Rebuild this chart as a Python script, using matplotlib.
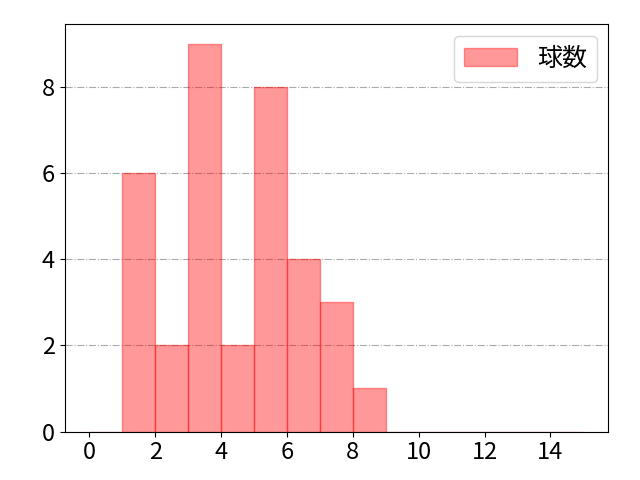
import matplotlib.pyplot as plt
import numpy as np

plt.rcParams['font.family'] = ['Noto Sans CJK JP', 'DejaVu Sans']

# pitch counts per bin (bins of width 1 from 0 to 15)
bin_edges = list(range(0, 16))
counts = [0, 6, 2, 9, 2, 8, 4, 3, 1, 0, 0, 0, 0, 0, 0]
label = "球数"

fig, ax = plt.subplots(figsize=(6.4, 4.8), dpi=100)
ax.hist(bin_edges[:-1], bins=bin_edges, weights=counts, color='red', alpha=0.4,
        edgecolor='red', label=label)
ax.grid(axis='y', linestyle='-.', color='#aaaaaa')
ax.set_axisbelow(True)
ax.set_xticks([0, 2, 4, 6, 8, 10, 12, 14])
ax.set_yticks([0, 2, 4, 6, 8])
ax.tick_params(labelsize=17)
ax.legend(fontsize=18, loc='upper right', handlelength=2.1, borderaxespad=0.45)
fig.subplots_adjust(left=0.101, right=0.95, top=0.949, bottom=0.101)
fig.savefig("out.png")
